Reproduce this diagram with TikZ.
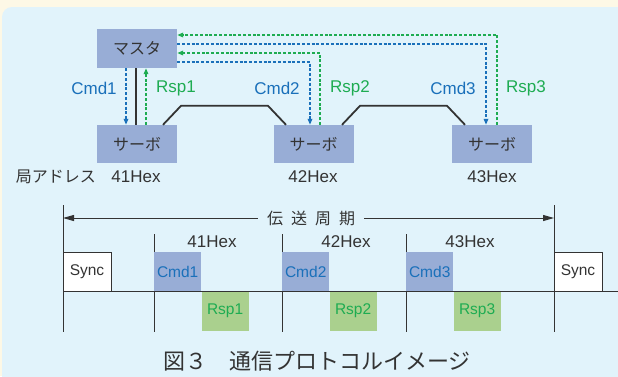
\documentclass[tikz,border=0pt]{standalone}
\usepackage{fontspec}
\setmainfont{Liberation Sans}
\newfontfamily\jp{Noto Sans CJK JP}
\usetikzlibrary{arrows.meta}
\definecolor{cream}{RGB}{253,248,230}
\definecolor{panel}{RGB}{225,243,251}
\definecolor{servo}{RGB}{152,173,214}
\definecolor{cmdcol}{RGB}{26,112,186}
\definecolor{rspcol}{RGB}{30,172,82}
\definecolor{rspfill}{RGB}{170,208,142}
\colorlet{ink}{black!80}
\def\lbl#1{\fontsize{#1}{#1}\selectfont}
\tikzset{unit/.style={fill=servo, minimum width=80pt, minimum height=38pt, inner sep=0pt,
      text=ink, font=\jp\lbl{16}},
    cmd/.style={draw=cmdcol, line width=1.5pt, dash pattern=on 3pt off 1.8pt,
      -{Triangle[length=6pt,width=4.5pt]}},
    rsp/.style={cmd, draw=rspcol},
    bus/.style={draw=ink, line width=1.8pt},
    tag/.style={inner sep=0pt, font=\lbl{17}},
    slot/.style={minimum width=47pt, minimum height=39pt, inner sep=0pt, font=\lbl{15.5}},
    tick/.style={draw=ink, line width=1pt}}

\begin{document}
\begin{tikzpicture}[x=1pt, y=-1pt]
    \clip (0,0) rectangle (618,376);
    \fill[cream] (0,0) rectangle (618,376);
    \fill[panel, rounded corners=10pt] (2,7) rectangle (640,400);

    % network
    \node[unit, minimum height=39pt] (master) at (137,48.5) {マスタ};
    \node[unit] (s1) at (137,144) {サーボ};
    \node[unit] (s2) at (313.5,144) {サーボ};
    \node[unit] (s3) at (492,144) {サーボ};
    \draw[bus] ([xshift=-1pt]master.south) -- ([xshift=-1pt]s1.north);
    \draw[bus] ([xshift=26pt]s1.north) -- ++(18,-19)
      -- ([xshift=-45.5pt,yshift=19pt]s2.north) -- ([xshift=-27.5pt]s2.north);
    \draw[bus] ([xshift=28.5pt]s2.north) -- ++(18,-19)
      -- ([xshift=-45pt,yshift=19pt]s3.north) -- ([xshift=-27pt]s3.north);
    \draw[cmd] ([xshift=-11pt]master.south) -- ([xshift=-11pt]s1.north);
    \draw[rsp] ([xshift=9pt]s1.north) -- ([xshift=9pt]master.south);
    \draw[rsp] ([xshift=5pt]s3.north) |- ([yshift=13.5pt]master.east);
    \draw[cmd] ([yshift=4.5pt]master.east) -| ([xshift=-6pt]s3.north);
    \draw[rsp] ([xshift=6.5pt]s2.north) |- ([yshift=-4.5pt]master.east);
    \draw[cmd] ([yshift=-13.5pt]master.east) -| ([xshift=-3.5pt]s2.north);
    \node[tag, text=cmdcol] (c1) at (94,88) {Cmd1};
    \node[tag, text=rspcol] (r1) at (176,88) {Rsp1};
    \node[tag, text=cmdcol] (c2) at (277,88) {Cmd2};
    \node[tag, text=rspcol] (r2) at (350,88) {Rsp2};
    \node[tag, text=cmdcol] (c3) at (453,88) {Cmd3};
    \node[tag, text=rspcol] (r3) at (526,88) {Rsp3};
    \node[tag, text=ink, font=\jp\lbl{16}] (addr) at (56,177) {局アドレス};
    \node[tag, text=ink] (a1) at (136,177) {41Hex};
    \node[tag, text=ink] (a2) at (313,177) {42Hex};
    \node[tag, text=ink] (a3) at (492,177) {43Hex};

    % timing
    \draw[tick] (63,205) -- (63,332);
    \draw[tick] (554,205) -- (554,332);
    \foreach \x in {154,282,406}
      \draw[tick] (\x,234) -- (\x,332);
    \draw[tick] (63,291) -- (618,291);
    \node[tag, text=ink, font=\jp\lbl{16}] (cycle) at (311,218)
      {伝\hspace{8pt}送\hspace{8pt}周\hspace{8pt}期};
    \coordinate (t0) at (63,218);
    \coordinate (t1) at (554,218);
    \draw[tick, -{Triangle[length=11pt,width=6pt]}] ([xshift=-9pt]cycle.west) -- (t0);
    \draw[tick, -{Triangle[length=11pt,width=6pt]}] ([xshift=9pt]cycle.east) -- (t1);
    \node[slot, fill=white, draw=ink, line width=1pt, text=ink, minimum width=48pt] (sync1) at (87,271.5) {Sync};
    \node[slot, fill=white, draw=ink, line width=1pt, text=ink, minimum width=48pt] (sync2) at (578,271.5) {Sync};
    \foreach \n/\x in {1/154,2/282,3/406} {
      \node[slot, fill=servo, text=cmdcol, anchor=north west] (cmd\n) at (\x,252) {Cmd\n};
      \node[slot, fill=rspfill, text=rspcol, anchor=north west] (rsp\n) at (cmd\n.south east) {Rsp\n};
    }
    \node[tag, text=ink] (h1) at (212,242) {41Hex};
    \node[tag, text=ink] (h2) at (346,242) {42Hex};
    \node[tag, text=ink] (h3) at (470,242) {43Hex};

    \node[tag, text=ink, font=\jp\lbl{22}] (title) at (317,361) {図３　通信プロトコルイメージ};
\end{tikzpicture}
\end{document}
